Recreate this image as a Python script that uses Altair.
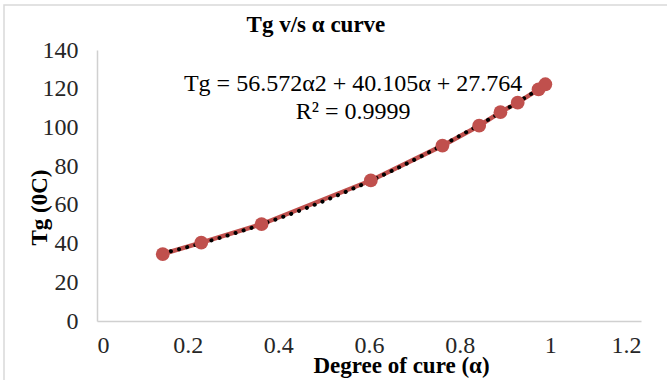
import altair as alt
import pandas as pd

# Data
alpha = [0.145, 0.230, 0.363, 0.604, 0.762, 0.843, 0.890, 0.928, 0.974, 0.989]
tg = [34.6, 40.5, 50.0, 72.6, 90.6, 100.9, 107.9, 112.8, 119.7, 122.3]
x_ticks = [0, 0.2, 0.4, 0.6, 0.8, 1.0, 1.2]
y_ticks = [0, 20, 40, 60, 80, 100, 120, 140]
chart_title = ["Tg v/s α curve"]
equation_lines = ["Tg = 56.572α2 + 40.105α + 27.764", "R² = 0.9999"]
eq_pos = {"alpha": [0.565], "tg": [119.0]}
title_pos = {"alpha": [0.483], "tg": [149.4]}

df = pd.DataFrame({"alpha": alpha, "tg": tg})
eq_df = pd.DataFrame({"alpha": eq_pos["alpha"], "tg": eq_pos["tg"], "label": [equation_lines]})
title_df = pd.DataFrame({"alpha": title_pos["alpha"], "tg": title_pos["tg"], "label": chart_title})

FONT = "Liberation Serif"
RED = "#C0504D"

x_enc = alt.X(
    "alpha:Q",
    scale=alt.Scale(domain=[0, 1.2], nice=False, zero=True),
    axis=alt.Axis(
        values=x_ticks,
        labelOverlap=False,
        title="Degree of cure (α)",
        labelExpr="format(datum.value, '~g')",
        titleX=304, titleY=51, titleAlign="center", titleBaseline="alphabetic",
    ),
)
y_enc = alt.Y(
    "tg:Q",
    scale=alt.Scale(domain=[0, 140], nice=False),
    axis=alt.Axis(
        values=y_ticks,
        labelOverlap=False,
        title="Tg (0C)",
        titleX=-51, titleY=157, titleAngle=270, titleAlign="center", titleBaseline="alphabetic",
    ),
)

base = alt.Chart(df).encode(x=x_enc, y=y_enc)

line = base.mark_line(color=RED, strokeWidth=4.5)
points = base.mark_circle(color=RED, opacity=1, size=190)
trend = (
    base.transform_regression("alpha", "tg", method="poly", order=2)
    .mark_line(color="black", strokeWidth=4, strokeDash=[0.1, 8.3], strokeCap="round")
)
eq_text = alt.Chart(eq_df).mark_text(
    font=FONT, fontSize=24, color="#000000", align="center", baseline="alphabetic", lineHeight=28
).encode(x=x_enc, y=y_enc, text="label")
title_text = alt.Chart(title_df).mark_text(
    font=FONT, fontSize=23, fontWeight="bold", color="#000000", align="center", baseline="alphabetic"
).encode(x=x_enc, y=y_enc, text="label:N")

frame = alt.Chart(pd.DataFrame({"k": [0]})).mark_rect(
    fill="transparent", stroke="#d9d9d9", strokeWidth=1.5
).encode(x=alt.value(-93), x2=alt.value(640), y=alt.value(-45), y2=alt.value(400))

chart = (
    alt.layer(line, trend, points, eq_text, title_text, frame)
    .properties(
        width=544,
        height=271,
        padding={"left": 97, "top": 50, "right": 26, "bottom": 59},
        autosize=alt.AutoSizeParams(type="none"),
    )
    .configure_view(stroke=None)
    .configure_axis(
        labelFont=FONT, labelFontSize=24, labelColor="#262626", labelOverlap=False,
        titleFont=FONT, titleFontSize=23, titleFontWeight="bold", titleColor="#000000",
        domainColor="#d0d0d0", domainWidth=1.5, ticks=False, grid=False,
    )
    .configure_axisY(labelPadding=19)
    .configure_axisX(labelPadding=12)
)

chart.save("out.html", embed_options={"renderer": "svg", "actions": False})
